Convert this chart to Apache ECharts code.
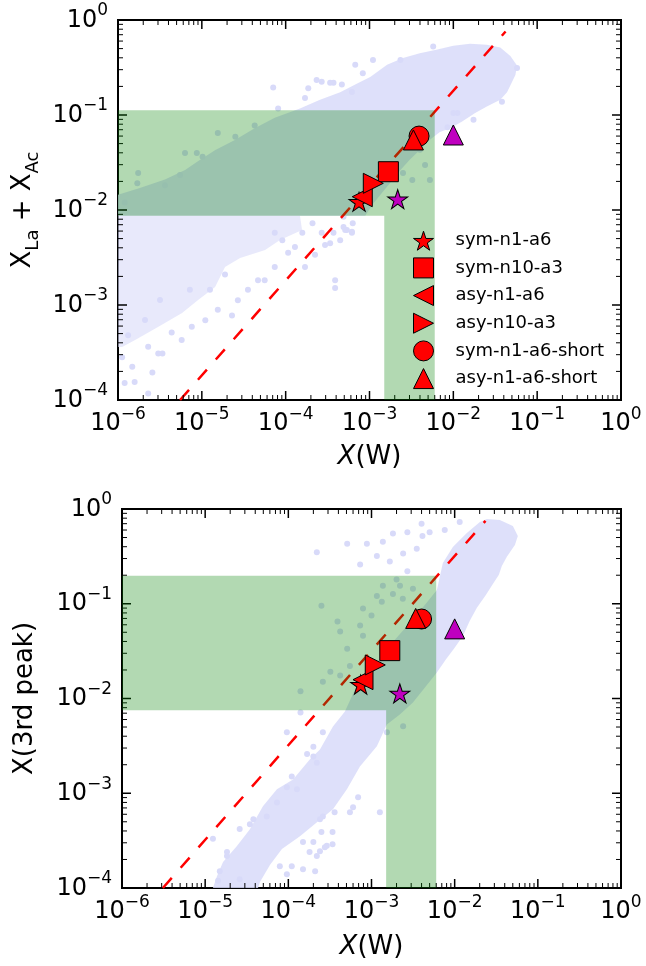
<!DOCTYPE html>
<html><head><meta charset="utf-8">
<script src="https://cdn.jsdelivr.net/npm/echarts@6/dist/echarts.min.js"></script>
<style>html,body{margin:0;padding:0;background:#fff}#c{width:646px;height:966px}</style>
</head><body><div id="c"></div>
<script>
// ================= DATA =================
const legendNames = ['sym-n1-a6','sym-n10-a3','asy-n1-a6','asy-n10-a3','sym-n1-a6-short','asy-n1-a6-short'];
// top panel: X(W) vs X_La + X_Ac
const topRedX = [7.5e-4, 1.68e-3, 8.2e-4, 1.11e-3, 3.9e-3, 3.34e-3];
const topRedY = [1.22e-2, 2.53e-2, 1.38e-2, 1.91e-2, 6.0e-2, 5.46e-2];
const topPurpleStar = [2.17e-3, 1.30e-2];
const topPurpleTri = [1.0e-2, 6.16e-2];
// bottom panel: X(W) vs X(3rd peak)
const botRedX = [7.4e-4, 1.66e-3, 7.9e-4, 1.11e-3, 4.0e-3, 3.4e-3];
const botRedY = [1.40e-2, 3.2e-2, 1.58e-2, 2.26e-2, 6.9e-2, 7.0e-2];
const botPurpleStar = [2.19e-3, 1.13e-2];
const botPurpleTri = [1.0e-2, 5.43e-2];
// dashed reference lines (end points)
const topDiag = [[5.5e-6, 1e-4], [4.2e-2, 0.756]];
const botDiag = [[3.1e-6, 1e-4], [2.35e-2, 0.75]];
// shaded windows
const topBandX = [1.5e-3, 6e-3];
const topBandY = [8.7e-3, 0.112];
const botBandX = [1.5e-3, 6e-3];
const botBandY = [7.5e-3, 0.198];
// axis ranges and ticks
const xMin = 1e-6, xMax = 1, yMin = 1e-4, yMax = 1;
const xMajor = [1e-6, 1e-5, 1e-4, 1e-3, 1e-2, 1e-1, 1];
const yMajor = [1e-4, 1e-3, 1e-2, 1e-1, 1];
const tickMantissas = [2, 3, 4, 5, 6, 7, 8, 9];
const xTickDecades = [-6, -5, -4, -3, -2, -1];
const yTickDecades = [-4, -3, -2, -1];

// background model cloud, top panel: dense outline regions + individual points
const topCloudCore = [
[1.0e-6,1.45e-2],[1.82e-6,1.70e-2],[3.63e-6,2.09e-2],[6.31e-6,2.63e-2],[9.55e-6,3.39e-2],[1.45e-5,4.27e-2],
[2.51e-5,5.50e-2],[4.27e-5,7.24e-2],[7.41e-5,9.33e-2],[1.48e-4,0.117],[2.57e-4,0.145],[4.47e-4,0.174],
[6.76e-4,0.209],[1.02e-3,0.251],[1.62e-3,0.339],[2.51e-3,0.398],[3.98e-3,0.447],[6.46e-3,0.490],
[1.0e-2,0.537],[1.58e-2,0.562],[2.51e-2,0.550],[3.63e-2,0.513],[4.79e-2,0.417],[5.75e-2,0.331],
[5.50e-2,0.263],[4.37e-2,0.174],[3.63e-2,0.145],[2.51e-2,0.123],[1.82e-2,0.105],[1.26e-2,8.51e-2],
[9.12e-3,7.24e-2],[6.92e-3,6.61e-2],[5.25e-3,5.50e-2],[3.98e-3,4.27e-2],[3.02e-3,3.39e-2],[2.34e-3,2.63e-2],
[1.78e-3,1.95e-2],[1.35e-3,1.45e-2],[1.07e-3,1.12e-2],[8.91e-4,8.71e-3],[1.0e-6,8.71e-3]];
const topCloudLeft = [
[1.0e-6,8.71e-3],[1.48e-4,8.71e-3],[1.57e-4,6.15e-3],[8.57e-5,4.83e-3],[5.68e-5,3.79e-3],[2.86e-5,3.13e-3],
[1.89e-5,2.51e-3],[1.44e-5,1.55e-3],[9.02e-6,1.13e-3],[5.81e-6,8.24e-4],[3.00e-6,5.86e-4],[1.60e-6,4.28e-4],
[1.12e-6,3.61e-4],[1.0e-6,3.61e-4]];
const topCloudDots = [
[7.1e-5,0.195],[2.34e-4,0.234],[1.86e-4,0.191],[3.72e-4,0.219],[4.68e-4,0.209],[6.76e-4,0.339],[8.32e-4,0.275],
[1.10e-3,0.380],[1.70e-4,0.151],[8.13e-5,0.117],[4.27e-5,7.76e-2],[2.51e-5,5.89e-2],[1.55e-5,6.46e-2],
[8.71e-6,3.98e-2],[1.02e-5,3.63e-2],[6.3e-6,3.98e-2],[5.50e-6,2.34e-2],[1.74e-6,2.45e-2],[1.70e-6,1.91e-2],
[3.63e-6,1.82e-2],[1.20e-6,1.20e-2],
[5.75e-3,0.525],[2.34e-3,0.380],[5.75e-2,0.313],[3.80e-2,0.138],[1.12e-2,0.105],[8.51e-3,7.41e-2],
[1.74e-2,8.91e-2],[1.0e-2,0.105],[3.39e-4,0.219],[2.69e-4,0.224],[6.17e-4,0.175],
[3.98e-3,4.3e-2],[4.6e-3,2.98e-2],[5.25e-3,2.07e-2],[3.24e-3,2.07e-2],[2.51e-3,2.45e-2],[5.37e-4,6.17e-3],
[6.31e-4,7.24e-3],[4.9e-4,8.5e-3],
[2.69e-4,5.75e-3],[3.72e-4,5.75e-3],[4.90e-4,6.61e-3],[6.17e-4,5.75e-3],[3.89e-4,1.82e-3],[3.89e-4,1.51e-3],
[3.39e-4,4.47e-3],[4.47e-4,4.79e-3],[2.95e-4,4.27e-3],[2.24e-4,3.39e-3],[1.70e-4,2.51e-3],[1.07e-4,3.55e-3],
[7.41e-5,2.51e-3],[5.62e-5,1.82e-3],[4.68e-5,1.82e-3],[2.69e-5,1.12e-3],[3.55e-5,1.45e-3],[2.29e-5,7.76e-4],
[1.55e-5,8.91e-4],[1.10e-5,6.92e-4],[7.59e-6,5.89e-4],[5.75e-6,4.27e-4],[4.37e-6,5.13e-4],[3.39e-6,3.09e-4],
[3.02e-6,3.09e-4],[2.29e-6,3.63e-4],[2.57e-6,1.95e-4],[1.58e-6,1.55e-4],[1.20e-6,1.51e-4],[1.48e-6,2.24e-4],
[1.12e-6,2.82e-4],[2.29e-6,1.17e-4],[6.17e-4,5.89e-3],[5.13e-4,6.17e-3],[1.58e-4,5.75e-3],[9.12e-5,4.79e-3],
[1.29e-4,4.07e-3],[2.09e-4,7.24e-3],[7.41e-5,5.75e-3],
[2.1e-6,6.95e-4],[1.32e-6,4.8e-4],[3.17e-6,1.13e-3],[1.25e-5,1.45e-3],[1.89e-5,2.1e-3],[7.2e-6,1.45e-3]];

// background model cloud, bottom panel
const botCloudCore = [
[1.24e-5,1.0e-4],[1.39e-5,1.34e-4],[1.64e-5,1.88e-4],[2.41e-5,2.77e-4],[3.45e-5,4.18e-4],[4.95e-5,7.30e-4],
[7.29e-5,1.10e-3],[1.14e-4,1.40e-3],[1.82e-4,2.28e-3],[2.40e-4,2.90e-3],[3.44e-4,5.07e-3],[4.79e-4,7.30e-3],
[6.31e-4,1.24e-2],[1.10e-3,2.28e-2],[1.91e-3,4.18e-2],[3.52e-3,7.66e-2],[6.11e-3,0.140],[7.21e-3,0.270],
[9.51e-3,0.398],[1.40e-2,0.559],[2.01e-2,0.730],[2.44e-2,0.785],[3.49e-2,0.766],[5.01e-2,0.662],
[5.75e-2,0.520],[5.30e-2,0.418],[4.24e-2,0.313],[3.69e-2,0.251],[3.40e-2,0.202],[2.88e-2,0.162],
[2.37e-2,0.124],[1.85e-2,9.08e-2],[1.52e-2,6.62e-2],[1.26e-2,4.60e-2],[1.00e-2,3.44e-2],[7.83e-3,2.58e-2],
[6.11e-3,1.88e-2],[4.39e-3,1.31e-2],[3.15e-3,9.08e-3],[2.19e-3,6.79e-3],[1.53e-3,5.32e-3],[1.16e-3,3.13e-3],
[7.26e-4,1.92e-3],[5.06e-4,1.10e-3],[3.44e-4,6.79e-4],[2.21e-4,4.95e-4],[1.38e-4,3.52e-4],[8.37e-5,2.58e-4],
[6.01e-5,1.75e-4],[4.56e-5,1.16e-4],[4.32e-5,1.0e-4]];
const botCloudDots = [
[5.1e-4,0.43],[8.8e-4,0.43],[2.2e-4,0.35],[1.37e-3,0.45],[1.81e-3,0.55],[4.0e-3,0.70],[5.0e-3,0.57],
[7.3e-4,0.26],[1.16e-3,0.32],[1.66e-3,0.28],[2.4e-3,0.34],[3.5e-3,0.38],[2.7e-3,0.22],[2.0e-3,0.18],
[7.6e-3,0.60],[1.15e-2,0.73],[2.7e-3,0.57],[4.1e-3,0.52],
[2.5e-4,9.5e-2],[3.9e-4,6.5e-2],[7.9e-4,8.9e-2],[7.3e-4,5.9e-2],[1.0e-3,7.5e-2],[1.37e-3,0.155],
[1.16e-3,0.121],[1.81e-3,0.127],[2.38e-3,0.113],[2.2e-3,0.155],[3.15e-3,0.144],[1.33e-3,0.105],
[7.9e-4,4.6e-2],[5.1e-4,3.36e-2],[3.2e-4,1.92e-2],[2.6e-4,1.5e-2],[1.4e-4,1.19e-2],[4.2e-4,5.1e-2],
[5.5e-4,2.2e-2],[4.2e-4,1.75e-2],[1.4e-4,7.1e-3],
[1.26e-3,6.3e-4],[6.9e-4,9.1e-4],[6.0e-4,7.1e-4],[3.6e-4,6.3e-4],[3.4e-4,3.9e-4],[2.75e-4,2.7e-4],
[3.4e-4,2.9e-4],[1.53e-3,4.4e-3],[2.4e-3,5.1e-3],[9.6e-5,1.16e-3],[1.27e-4,1.1e-3],[2.0e-4,2.45e-3],
[1.68e-4,2.6e-3],[1.1e-4,1.5e-3],[3.45e-5,4.7e-4],[2.6e-5,4.2e-4],[1.24e-5,3.3e-4],[1.83e-5,2.4e-4],
[1.5e-5,1.5e-4],[1.43e-5,1.19e-4],[2.6e-4,5.7e-4],[2.5e-4,3.9e-4],[2.4e-4,2.45e-4],[1.5e-4,1.58e-4],
[2.2e-4,2.17e-4],[2.0e-4,3.05e-4],[7.9e-5,1.7e-4],[9.6e-5,1.4e-4],[1.1e-4,1.7e-4],[1.5e-4,3.05e-4],
[5.5e-4,6.3e-4],[2.1e-4,1.5e-4],[9.6e-5,4.4e-3],[1.83e-5,2.17e-4],[2.6e-5,1.24e-4],[3.8e-5,5.3e-4],
[5.5e-5,5.7e-4],[7.3e-5,8.0e-4],[2.2e-4,2.1e-3],[2.0e-4,3.1e-3],[2.6e-4,4.4e-3],[2.4e-4,5.3e-4],
[1.8e-4,2.4e-4],[2.9e-4,2.8e-4]];

// ================= STYLE / BUILD =================
const F = 'DejaVu Sans';
const CLOUD = '#d8daf9';
const GREEN = 'rgba(0,128,0,0.3)';
const starPath = 'path://M100,0 L77.55,69.1 L4.9,69.1 L63.7,111.8 L41.2,180.9 L100,138.2 L158.8,180.9 L136.3,111.8 L195.1,69.1 L122.45,69.1 Z';
const leftTri = 'path://M0,50 L100,0 L100,100 Z';
const rightTri = 'path://M100,50 L0,0 L0,100 Z';
const redSymbols = [starPath, 'rect', leftTri, rightTri, 'circle', 'triangle'];
const redSizes = [[20,19], 20, 20, 20, 20, 20];

const xMinor = [], yMinor = [];
xTickDecades.forEach(d => tickMantissas.forEach(m => xMinor.push(Number((m * Math.pow(10, d)).toPrecision(3)))));
yTickDecades.forEach(d => tickMantissas.forEach(m => yMinor.push(Number((m * Math.pow(10, d)).toPrecision(3)))));

function expLabel(v) {
  const e = Math.round(Math.log10(v));
  return '{b|10}{s|' + (e < 0 ? '\u2212' + (-e) : String(e)) + '}';
}
const labelRich = {
  b: {fontSize: 24, lineHeight: 30, verticalAlign: 'bottom', fontFamily: F, color: '#000'},
  s: {fontSize: 17, lineHeight: 17, verticalAlign: 'top', fontFamily: F, color: '#000'}
};
function xAx(gi) {
  return {gridIndex: gi, type: 'log', logBase: 10, min: xMin, max: xMax, splitNumber: 6,
    axisLine: {show: false}, axisTick: {show: false}, splitLine: {show: false}, minorTick: {show: false},
    axisLabel: {margin: 6, formatter: expLabel, rich: labelRich, showMinLabel: true, showMaxLabel: true}};
}
function yAx(gi) {
  return {gridIndex: gi, type: 'log', logBase: 10, min: yMin, max: yMax, splitNumber: 4,
    axisLine: {show: false}, axisTick: {show: false}, splitLine: {show: false}, minorTick: {show: false},
    axisLabel: {margin: 10, padding: [0, 0, 5, 0], formatter: expLabel, rich: labelRich, showMinLabel: true, showMaxLabel: true}};
}

function polySeries(gi, pts, color, opacity, z) {
  return {type: 'custom', xAxisIndex: gi, yAxisIndex: gi, silent: true, z: z, clip: true,
    data: pts,
    renderItem: function (params, api) {
      if (params.dataIndex !== 0) return null;
      return {type: 'polygon', shape: {points: pts.map(p => api.coord(p))}, style: {fill: color, opacity: opacity}};
    }};
}
function bandSeries(gi, bx, by) {
  const pts = [[xMin, by[1]], [bx[1], by[1]], [bx[1], yMin], [bx[0], yMin], [bx[0], by[0]], [xMin, by[0]]];
  return polySeries(gi, pts, GREEN, 1, 4);
}
function dotSeries(gi, pts) {
  return {type: 'scatter', xAxisIndex: gi, yAxisIndex: gi, silent: true, z: 1, data: pts,
    symbol: 'circle', symbolSize: 6, itemStyle: {color: CLOUD, opacity: 1}};
}
function tickSeries(gi, vals, axis, len, lw) {
  return {type: 'custom', xAxisIndex: gi, yAxisIndex: gi, silent: true, z: 3, clip: false,
    data: vals.map(v => axis === 'x' ? [v, yMin] : [xMin, v]),
    renderItem: function (params, api) {
      const st = {stroke: '#000', lineWidth: lw};
      if (axis === 'x') {
        const v = api.value(0);
        const a = api.coord([v, yMin]), b = api.coord([v, yMax]);
        return {type: 'group', children: [
          {type: 'line', shape: {x1: a[0], y1: a[1], x2: a[0], y2: a[1] - len}, style: st},
          {type: 'line', shape: {x1: b[0], y1: b[1], x2: b[0], y2: b[1] + len}, style: st}]};
      }
      const v = api.value(1);
      const a = api.coord([xMin, v]), b = api.coord([xMax, v]);
      return {type: 'group', children: [
        {type: 'line', shape: {x1: a[0], y1: a[1], x2: a[0] + len, y2: a[1]}, style: st},
        {type: 'line', shape: {x1: b[0], y1: b[1], x2: b[0] - len, y2: b[1]}, style: st}]};
    }};
}
function diagSeries(gi, pts) {
  return {type: 'line', xAxisIndex: gi, yAxisIndex: gi, silent: true, z: 2, data: pts,
    symbol: 'none', showSymbol: false, lineStyle: {color: '#ff0000', width: 2.5, type: [13.5, 13.5]}};
}
function markerSeries(gi, name, x, y, symbol, size, color, z) {
  return {type: 'scatter', xAxisIndex: gi, yAxisIndex: gi, name: name, z: z, data: [[x, y]],
    symbol: symbol, symbolSize: size, itemStyle: {color: color, borderColor: '#000', borderWidth: 1, opacity: 1}};
}

const series = [];
// panel 0 (top)
series.push(polySeries(0, topCloudLeft, CLOUD, 0.6, 1));
series.push(polySeries(0, topCloudCore, CLOUD, 0.85, 1));
series.push(dotSeries(0, topCloudDots));
series.push(diagSeries(0, topDiag));
// panel 1 (bottom)
series.push(polySeries(1, botCloudCore, CLOUD, 0.85, 1));
series.push(dotSeries(1, botCloudDots));
series.push(diagSeries(1, botDiag));
[0, 1].forEach(gi => {
  series.push(tickSeries(gi, xMajor, 'x', 9, 1.5));
  series.push(tickSeries(gi, xMinor, 'x', 5, 1));
  series.push(tickSeries(gi, yMajor, 'y', 9, 1.5));
  series.push(tickSeries(gi, yMinor, 'y', 5, 1));
});
series.push(bandSeries(0, topBandX, topBandY));
series.push(bandSeries(1, botBandX, botBandY));
legendNames.forEach((n, i) => {
  series.push(markerSeries(0, n, topRedX[i], topRedY[i], redSymbols[i], redSizes[i], '#ff0000', 10 + i));
  series.push(markerSeries(1, n, botRedX[i], botRedY[i], redSymbols[i], redSizes[i], '#ff0000', 10 + i));
});
series.push(markerSeries(0, 'other-star', topPurpleStar[0], topPurpleStar[1], starPath, [20, 19], '#bf00bf', 9));
series.push(markerSeries(0, 'other-triangle', topPurpleTri[0], topPurpleTri[1], 'triangle', 20, '#bf00bf', 9));
series.push(markerSeries(1, 'other-star', botPurpleStar[0], botPurpleStar[1], starPath, [20, 19], '#bf00bf', 9));
series.push(markerSeries(1, 'other-triangle', botPurpleTri[0], botPurpleTri[1], 'triangle', 20, '#bf00bf', 9));

const option = {
  animation: false,
  backgroundColor: '#fff',
  textStyle: {fontFamily: F, color: '#000'},
  grid: [
    {left: 118, top: 20, width: 503, height: 380, containLabel: false, show: true, borderColor: '#000', borderWidth: 2, backgroundColor: 'rgba(0,0,0,0)'},
    {left: 122, top: 509, width: 499, height: 379, containLabel: false, show: true, borderColor: '#000', borderWidth: 2, backgroundColor: 'rgba(0,0,0,0)'}
  ],
  xAxis: [xAx(0), xAx(1)],
  yAxis: [yAx(0), yAx(1)],
  legend: {
    show: true, orient: 'vertical', left: 413, top: 230.7, padding: 0,
    itemWidth: 20, itemHeight: 20, itemGap: 6.67, selectedMode: false, z: 20,
    data: legendNames.map((n, i) => ({name: n, icon: redSymbols[i]})),
    itemStyle: {color: '#ff0000', borderColor: '#000', borderWidth: 1},
    formatter: '{a|{name}}',
    textStyle: {rich: {a: {fontSize: 18, lineHeight: 20, padding: [0, 0, 0, 17], fontFamily: F, color: '#000'}}}
  },
  graphic: [
    {type: 'text', x: 369.5, y: 457, z: 50, style: {text: '{i|X}{n|(W)}', align: 'center', verticalAlign: 'middle', fill: '#000',
      rich: {i: {fontSize: 26, fontStyle: 'italic', fontFamily: F, fill: '#000'}, n: {fontSize: 26, fontFamily: F, fill: '#000'}}}},
    {type: 'text', x: 371.5, y: 947.5, z: 50, style: {text: '{i|X}{n|(W)}', align: 'center', verticalAlign: 'middle', fill: '#000',
      rich: {i: {fontSize: 26, fontStyle: 'italic', fontFamily: F, fill: '#000'}, n: {fontSize: 26, fontFamily: F, fill: '#000'}}}},
    {type: 'text', x: 26, y: 210, rotation: Math.PI / 2, z: 50, style: {text: '{n|X}{s|La}{n| + X}{s|Ac}', align: 'center', verticalAlign: 'middle', fill: '#000',
      rich: {n: {fontSize: 26, lineHeight: 32, verticalAlign: 'top', fontFamily: F, fill: '#000'},
             s: {fontSize: 18, lineHeight: 18, verticalAlign: 'bottom', fontFamily: F, fill: '#000'}}}},
    {type: 'text', x: 25, y: 698.5, rotation: Math.PI / 2, z: 50, style: {text: 'X(3rd peak)', fontSize: 26, fontFamily: F, align: 'center', verticalAlign: 'middle', fill: '#000'}}
  ],
  series: series
};
const chart = echarts.init(document.getElementById('c'), null, {renderer: 'canvas'});
chart.setOption(option);
</script>
</body></html>
